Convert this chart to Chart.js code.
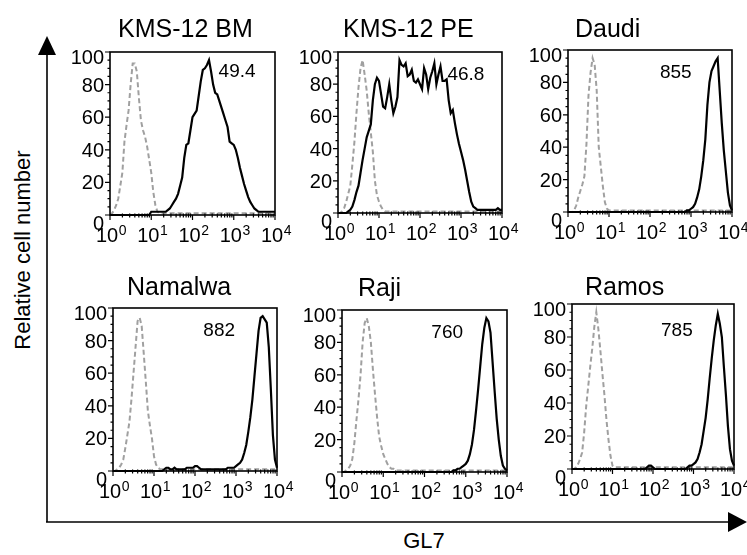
<!DOCTYPE html>
<html lang="en">
<head>
<meta charset="UTF-8">
<title>GL7 staining</title>
<script src="https://cdn.jsdelivr.net/npm/chart.js@4.4.1/dist/chart.umd.min.js"></script>
<style>
  body { margin: 0; background: #fff; }
  #fig { position: relative; width: 747px; height: 555px; overflow: hidden;
         font-family: "Liberation Sans", Arial, Helvetica, sans-serif; color: #000; }
  .panel { position: absolute; }
  #arrows { position: absolute; left: 0; top: 0; }
  #ylab { position: absolute; left: 23px; top: 250px; font-size: 22px; white-space: nowrap;
          transform: translate(-50%, -50%) rotate(-90deg); }
  #xlab { position: absolute; left: 424px; top: 541px; font-size: 22px;
          transform: translate(-50%, -50%); }
</style>
</head>
<body>
<div id="fig">
  <svg id="arrows" width="747" height="555">
    <line x1="47" y1="50" x2="47" y2="522" stroke="#000" stroke-width="1.6"/>
    <polygon points="47,36 38,55 56,55" fill="#000"/>
    <line x1="46" y1="522" x2="732" y2="522" stroke="#000" stroke-width="1.6"/>
    <polygon points="747,522 728,512 728,532" fill="#000"/>
  </svg>
  <div id="ylab">Relative cell number</div>
  <div id="xlab">GL7</div>
</div>

<script>
// histogram bins, in decades of fluorescence (10^0 .. 10^4)
const logBins = Array.from({ length: 81 }, (_, i) => i / 20);

const xTickValues = [0, 1, 2, 3, 4];
const xTickLabels = ['0', '1', '2', '3', '4'];   // exponents of 10
const yTickValues = [0, 20, 40, 60, 80, 100];

const cellLines = ['KMS-12 BM', 'KMS-12 PE', 'Daudi', 'Namalwa', 'Raji', 'Ramos'];
const stats = ['49.4', '46.8', '855', '882', '760', '785'];

// isotype control (dashed grey)
const bmCtrl = [
  0, 1, 3, 6, 10, 18, 26, 45, 55, 64,
  80, 93, 93, 88, 72, 58, 52, 48, 42, 34,
  26, 14, 6, 2, 1, 1, 1, 1, 1, 1,
  1, 1, 1, 1, 1, 1, 1, 1, 1, 1,
  1, 1, 1, 1, 1, 1, 1, 1, 1, 1,
  1, 1, 1, 1, 1, 1, 1, 1, 1, 1,
  1, 1, 1, 1, 1, 1, 1, 1, 1, 1,
  1, 1, 1, 1, 1, 1, 1, 1, 1, 1,
  1
];
const peCtrl = [
  0, 0, 1, 3, 7, 12, 17, 30, 44, 62,
  78, 90, 95, 86, 76, 62, 50, 38, 20, 11,
  7, 4, 2, 1, 1, 1, 1, 1, 1, 1,
  1, 1, 1, 1, 1, 1, 1, 1, 1, 1,
  1, 1, 1, 1, 1, 1, 1, 1, 1, 1,
  1, 1, 1, 1, 1, 1, 1, 1, 1, 1,
  1, 1, 1, 1, 1, 1, 1, 1, 1, 1,
  1, 1, 1, 1, 1, 1, 1, 1, 1, 1,
  1
];
const daudiCtrl = [
  0, 0, 0, 1, 4, 9, 13, 17, 22, 42,
  72, 86, 95, 91, 75, 40, 28, 16, 6, 2,
  1, 1, 1, 1, 1, 1, 1, 1, 1, 1,
  1, 1, 1, 1, 1, 1, 1, 1, 1, 1,
  1, 1, 1, 1, 1, 1, 1, 1, 1, 1,
  1, 1, 1, 1, 1, 1, 1, 1, 1, 1,
  1, 1, 1, 1, 1, 1, 1, 1, 1, 1,
  1, 1, 1, 1, 1, 1, 1, 1, 1, 1,
  1
];
const namalwaCtrl = [
  0, 0, 1, 2, 4, 7, 14, 22, 30, 44,
  60, 76, 92, 94, 89, 72, 55, 37, 28, 20,
  9, 4, 2, 1, 1, 1, 1, 1, 1, 1,
  1, 1, 1, 1, 1, 1, 1, 1, 1, 1,
  1, 1, 1, 1, 1, 1, 1, 1, 1, 1,
  1, 1, 1, 1, 1, 1, 1, 1, 1, 1,
  1, 1, 1, 1, 1, 1, 1, 1, 1, 1,
  1, 1, 1, 1, 1, 1, 1, 1, 1, 1,
  1
];
const rajiCtrl = [
  0, 0, 1, 2, 4, 8, 18, 32, 45, 60,
  80, 92, 95, 90, 80, 63, 48, 34, 22, 16,
  11, 8, 5, 3, 2, 2, 1, 1, 1, 1,
  1, 1, 1, 1, 1, 1, 1, 1, 1, 1,
  1, 1, 1, 1, 1, 1, 1, 1, 1, 1,
  1, 1, 1, 1, 1, 1, 1, 1, 1, 1,
  1, 1, 1, 1, 1, 1, 1, 1, 1, 1,
  1, 1, 1, 1, 1, 1, 1, 1, 1, 1,
  1
];
const ramosCtrl = [
  0, 0, 1, 3, 6, 10, 22, 38, 50, 62,
  73, 86, 95, 85, 72, 58, 45, 30, 18, 8,
  2, 1, 1, 1, 1, 1, 1, 1, 1, 1,
  1, 1, 1, 1, 1, 1, 1, 1, 1, 1,
  1, 1, 1, 1, 1, 1, 1, 1, 1, 1,
  1, 1, 1, 1, 1, 1, 1, 1, 1, 1,
  1, 1, 1, 1, 1, 1, 1, 1, 1, 1,
  1, 1, 1, 1, 1, 1, 1, 1, 1, 1,
  1
];

// GL7 staining (solid black)
const bmGL7 = [
  0, 0, 0, 0, 0, 0, 0, 0, 0, 0,
  0, 0, 0, 0, 0, 0, 0, 0, 0, 0,
  2, 2, 2, 2, 2, 2, 2, 2, 3, 4,
  6, 8, 10, 13, 18, 23, 35, 43, 44, 52,
  60, 62, 64, 73, 82, 89, 90, 92, 95, 88,
  80, 75, 74, 70, 66, 62, 58, 54, 45, 44,
  43, 40, 35, 29, 24, 19, 15, 11, 8, 6,
  4, 3, 2, 2, 2, 2, 2, 2, 2, 2,
  2
];
const peGL7 = [
  0, 0, 0, 0, 0, 1, 2, 4, 8, 13,
  17, 25, 33, 40, 47, 51, 55, 70, 80, 84,
  82, 74, 66, 65, 72, 80, 70, 62, 66, 72,
  95, 92, 91, 93, 85, 86, 89, 82, 81, 83,
  80, 77, 90, 86, 77, 84, 88, 93, 80, 86,
  91, 82, 82, 83, 70, 62, 64, 56, 49, 43,
  38, 33, 27, 20, 13, 7, 4, 3, 2, 2,
  2, 2, 2, 2, 2, 2, 2, 2, 3, 2,
  2
];
const daudiGL7 = [
  0, 0, 0, 0, 0, 0, 0, 0, 0, 0,
  0, 0, 0, 0, 0, 0, 0, 0, 0, 0,
  0, 0, 0, 0, 0, 0, 0, 0, 0, 0,
  0, 0, 0, 0, 0, 0, 0, 0, 0, 0,
  0, 0, 0, 0, 0, 0, 0, 0, 0, 0,
  0, 0, 0, 0, 0, 0, 0, 0, 1, 1,
  2, 3, 5, 9, 14, 22, 32, 45, 66, 80,
  87, 90, 93, 95, 75, 55, 38, 25, 12, 4,
  1
];
const namalwaGL7 = [
  0, 0, 0, 0, 0, 0, 0, 0, 0, 0,
  0, 0, 0, 0, 0, 0, 0, 0, 0, 0,
  0, 0, 0, 0, 0, 1, 2, 2, 1, 1,
  2, 1, 1, 1, 1, 1, 2, 2, 2, 2,
  3, 3, 2, 1, 1, 1, 1, 1, 1, 1,
  1, 1, 1, 1, 1, 1, 2, 2, 2, 2,
  3, 4, 5, 7, 11, 16, 24, 33, 44, 58,
  72, 86, 94, 95, 93, 91, 76, 50, 22, 7,
  2
];
const rajiGL7 = [
  0, 0, 0, 0, 0, 0, 0, 0, 0, 0,
  0, 0, 0, 0, 0, 0, 0, 0, 0, 0,
  0, 0, 0, 0, 0, 0, 0, 0, 0, 0,
  0, 0, 0, 0, 0, 0, 0, 0, 0, 0,
  0, 0, 0, 0, 0, 0, 0, 0, 0, 0,
  0, 0, 0, 0, 1, 1, 2, 2, 3, 4,
  5, 7, 11, 17, 26, 38, 51, 65, 79, 89,
  95, 93, 86, 68, 50, 33, 20, 10, 4, 2,
  1
];
const ramosGL7 = [
  0, 0, 0, 0, 0, 0, 0, 0, 0, 0,
  0, 0, 0, 0, 0, 0, 0, 0, 0, 0,
  0, 0, 0, 0, 0, 0, 0, 0, 0, 0,
  0, 0, 0, 0, 0, 0, 0, 1, 2, 2,
  1, 0, 0, 0, 0, 0, 0, 0, 0, 0,
  0, 0, 0, 0, 0, 0, 0, 1, 2, 2,
  3, 4, 6, 10, 15, 23, 31, 42, 55, 67,
  78, 87, 94, 88, 80, 62, 45, 26, 12, 5,
  2
];

const ctrlSeries = [bmCtrl, peCtrl, daudiCtrl, namalwaCtrl, rajiCtrl, ramosCtrl];
const gl7Series = [bmGL7, peGL7, daudiGL7, namalwaGL7, rajiGL7, ramosGL7];

// plot area of each panel on the page: left, top, width, height
const boxes = [
  [110, 52, 165, 163], [338, 52, 164, 161], [568, 50, 164, 162],
  [113, 308, 164, 163], [342, 310, 165, 162], [572, 304, 162, 165]
];
// title: offset from plot left, baseline height above plot top
const titlePos = [[8, 15], [5, 15], [7, 13], [14, 13], [16, 14], [13, 9]];
// where the statistic sits, in axis units (decade, % of max)
const statPos = [[3.08, 88], [3.12, 86], [2.63, 86], [2.59, 86], [2.55, 86], [2.59, 84]];

const FONT = '"Liberation Sans", Arial, Helvetica, sans-serif';
Chart.defaults.font.family = FONT;
Chart.defaults.color = '#000';

const AX_W = 46, AX_H = 34, TOP = 44, RIGHT = 26;

// box, tick marks, tick labels, title and statistic, drawn over the histograms
const framePlugin = {
  id: 'frame',
  afterDraw(chart, args, opts) {
    const { ctx, chartArea: a, scales: { x, y } } = chart;
    ctx.save();
    ctx.strokeStyle = '#000';
    ctx.lineWidth = 1.6;
    ctx.strokeRect(a.left, a.top, a.width, a.height);

    ctx.lineWidth = 1.2;
    ctx.beginPath();
    for (let d = 0; d <= 4; d++) {
      const px = x.getPixelForValue(d);
      ctx.moveTo(px, a.bottom);
      ctx.lineTo(px, a.bottom + 5);
      if (d === 4) break;
      for (let k = 2; k < 10; k++) {
        const mx = x.getPixelForValue(d + Math.log10(k));
        ctx.moveTo(mx, a.bottom - 1.5);
        ctx.lineTo(mx, a.bottom + 2.5);
      }
    }
    for (let v = 0; v <= 100; v += 5) {
      const py = y.getPixelForValue(v);
      ctx.moveTo(a.left, py);
      ctx.lineTo(a.left - (v % 20 === 0 ? 5 : 2.5), py);
    }
    ctx.stroke();
    ctx.fillStyle = '#000';

    // y labels: 0 and 100 sit a little low, as in the cytometer output
    ctx.font = '20px ' + FONT;
    ctx.textAlign = 'right';
    ctx.textBaseline = 'alphabetic';
    y.ticks.forEach(t => {
      const shift = t.value === 0 ? 8 : t.value === 100 ? 5 : 0;
      ctx.fillText(String(t.value), a.left - 6, y.getPixelForValue(t.value) + 7 + shift);
    });

    // x labels as 10 with a raised exponent
    x.ticks.forEach(t => {
      const exp = xTickLabels[xTickValues.indexOf(t.value)];
      ctx.font = '20px ' + FONT;
      const wBase = ctx.measureText('10').width;
      ctx.font = '14px ' + FONT;
      const wExp = ctx.measureText(exp).width;
      const x0 = x.getPixelForValue(t.value) - (wBase + wExp) / 2 + 1;
      ctx.textAlign = 'left';
      ctx.font = '20px ' + FONT;
      ctx.fillText('10', x0, a.bottom + 27);
      ctx.font = '14px ' + FONT;
      ctx.fillText(exp, x0 + wBase + 0.5, a.bottom + 20);
    });

    ctx.font = '25px ' + FONT;
    ctx.textAlign = 'left';
    ctx.fillText(opts.title, a.left + opts.titleAt[0], a.top - opts.titleAt[1]);

    ctx.font = '19px ' + FONT;
    ctx.textAlign = 'center';
    ctx.textBaseline = 'middle';
    ctx.fillText(opts.stat, x.getPixelForValue(opts.statAt[0]), y.getPixelForValue(opts.statAt[1]));
    ctx.restore();
  }
};

const fig = document.getElementById('fig');

cellLines.forEach((name, i) => {
  const [left, top, w, h] = boxes[i];
  const holder = document.createElement('div');
  holder.className = 'panel';
  holder.style.left = (left - AX_W) + 'px';
  holder.style.top = (top - TOP) + 'px';
  const canvas = document.createElement('canvas');
  canvas.width = AX_W + w + RIGHT;
  canvas.height = TOP + h + AX_H;
  holder.appendChild(canvas);
  fig.appendChild(holder);

  new Chart(canvas, {
    type: 'line',
    data: {
      labels: logBins,
      datasets: [
        {
          label: name + ' GL7',
          data: gl7Series[i],
          borderColor: '#000',
          borderWidth: 2.2,
          order: 1
        },
        {
          label: name + ' control',
          data: ctrlSeries[i],
          borderColor: '#a0a0a0',
          borderWidth: 2,
          borderDash: [5, 3],
          order: 2
        }
      ]
    },
    options: {
      responsive: false,
      animation: false,
      layout: { padding: { top: TOP, right: RIGHT, left: 0, bottom: 0 } },
      elements: { point: { radius: 0 }, line: { tension: 0 } },
      datasets: { line: { clip: 4 } },
      plugins: {
        legend: { display: false },
        tooltip: { enabled: false },
        frame: { title: name, titleAt: titlePos[i], stat: stats[i], statAt: statPos[i] }
      },
      scales: {
        x: {
          type: 'linear',
          min: 0,
          max: 4,
          afterFit: s => { s.height = AX_H; },
          afterBuildTicks: s => { s.ticks = xTickValues.map(v => ({ value: v })); },
          grid: { display: false, drawTicks: false },
          border: { display: false },
          ticks: { display: false }
        },
        y: {
          min: 0,
          max: 100,
          afterFit: s => { s.width = AX_W; },
          afterBuildTicks: s => { s.ticks = yTickValues.map(v => ({ value: v })); },
          grid: { display: false, drawTicks: false },
          border: { display: false },
          ticks: { display: false }
        }
      }
    },
    plugins: [framePlugin]
  });
});
</script>
</body>
</html>
